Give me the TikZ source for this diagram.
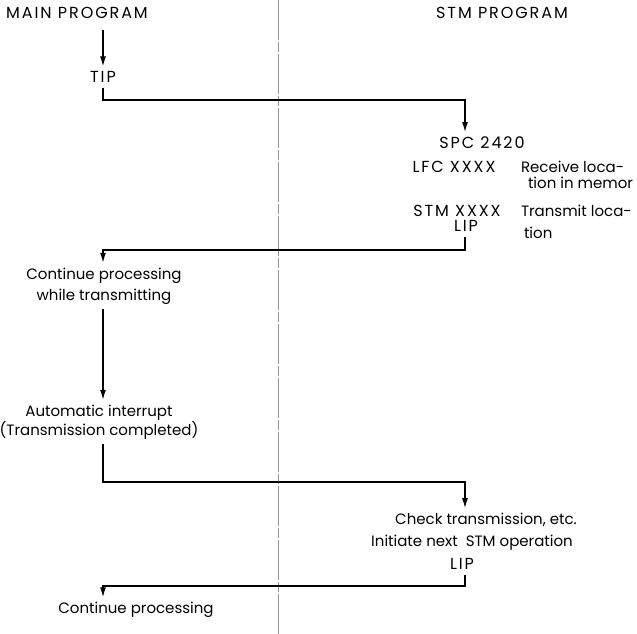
\documentclass[tikz,border=0pt]{standalone}
\usepackage{fontspec}
\usepackage{tikz}
\usetikzlibrary{arrows.meta}
\newfontfamily\gothic{Poppins}[LetterSpace=0]
\newfontfamily\gothiccaps{Poppins}[LetterSpace=12]

\tikzset{
  lbl/.style={inner sep=2pt, outer sep=3pt, font=\gothic\fontsize{15}{17}\selectfont},
  caps/.style={lbl, font=\gothiccaps\fontsize{16}{18}\selectfont},
  flow/.style={line width=1.3pt, -{Latex[length=10pt,width=6pt]}},
  divider/.style={line width=0.5pt, gray!80, dash pattern=on 40pt off 2pt on 10pt off 2pt}
}

\begin{document}
\begin{tikzpicture}[x=1pt,y=-1pt]
\useasboundingbox (0,0) rectangle (637,634);

%columns
\coordinate (mainx) at (103,0);
\coordinate (stmx) at (465,0);
\coordinate (divtop) at (278,0);
\coordinate (divbot) at (278,634);
\draw [divider] (divtop) -- (divbot);

%headings
\node [caps] (mainhead) at (77,13) {MAIN PROGRAM};
\node [caps] (stmhead) at (502,13) {STM PROGRAM};

%TIP
\coordinate (start) at (103,30);
\node [caps] (tip) at (103,77) {TIP};
\draw [flow] (start) -- (tip.north -| mainx);

%to STM program
\coordinate (h1) at (0,100);
\node [caps] (spc) at (482,143) {SPC~2420};
\draw [flow] (tip.south -| mainx) |- (h1 -| stmx) -- (spc.north -| stmx);

%STM program, first part
\node [caps] (lfc) at (454,167) {LFC XXXX};
\node [lbl, anchor=west] (recv) at (516,167) {Receive loca-};
\node [lbl, anchor=west] (recvb) at (523,183) {tion in memor};
\node [caps] (stmxx) at (457,211) {STM XXXX};
\node [lbl, anchor=west] (trans) at (516,211) {Transmit loca-};
\node [caps] (lipa) at (466,226) {LIP};
\node [lbl, anchor=west] (transb) at (519,233) {tion};

%back to main
\coordinate (h2) at (0,250);
\node [lbl, align=center] (cont) at (104,286) {Continue processing\\[4pt]while transmitting};
\draw [flow] (lipa.south -| stmx) |- (h2 -| mainx) -- (cont.north -| mainx);

%interrupt
\node [lbl, align=center] (auto) at (99,422) {Automatic interrupt\\(Transmission completed)};
\draw [flow] (cont.south -| mainx) -- (auto.north -| mainx);

%to STM program again
\coordinate (h3) at (0,482);
\node [lbl] (check) at (486,520) {Check transmission, etc.};
\draw [flow] (auto.south -| mainx) |- (h3 -| stmx) -- (check.north -| stmx);
\node [lbl] (next) at (472,543) {Initiate next~~STM operation};
\node [caps] (lipb) at (462,564) {LIP};

%back to main again
\coordinate (h4) at (0,586);
\node [lbl] (contb) at (136,610) {Continue processing};
\draw [flow] (lipb.south -| stmx) |- (h4 -| mainx) -- (contb.north -| mainx);
\end{tikzpicture}
\end{document}
